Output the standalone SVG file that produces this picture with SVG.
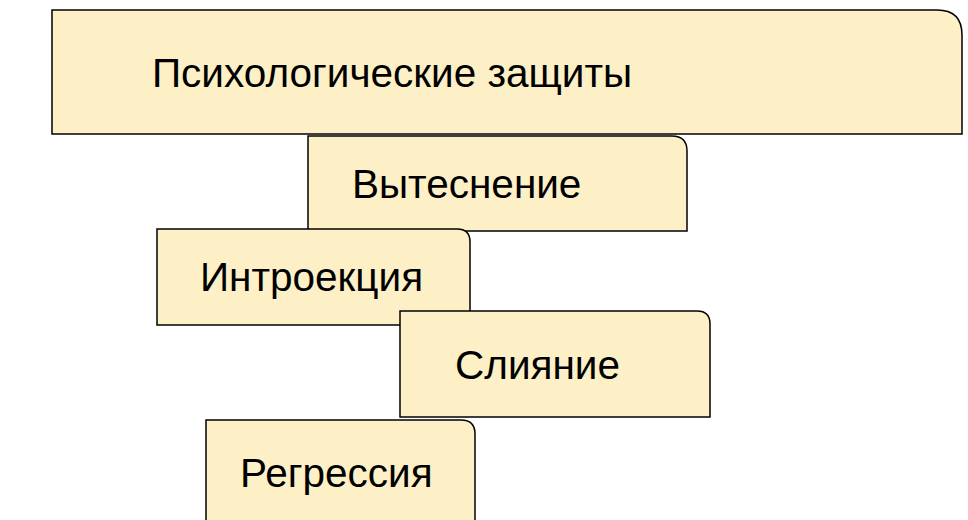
<svg xmlns="http://www.w3.org/2000/svg" width="968" height="520" viewBox="0 0 968 520">
<style>
.b{fill:#fdf0c6;stroke:#000;stroke-width:1.5}
.t{font-family:"Liberation Sans",Arial,sans-serif;font-size:40.5px;fill:#000}
</style>
<rect width="968" height="520" fill="#fff"/>
<g id="n0"><path class="b" d="M52 10H937Q962 10 962 35V134H52Z"/><text class="t" x="152" y="87">Психологические защиты</text></g>
<g id="n1"><path class="b" d="M308 136H672Q687 136 687 151V231H308Z"/><text class="t" x="352" y="198">Вытеснение</text></g>
<g id="n2"><path class="b" d="M157 229H457Q470 229 470 242V325H157Z"/><text class="t" x="200" y="291">Интроекция</text></g>
<g id="n3"><path class="b" d="M400 311H697Q710 311 710 324V417H400Z"/><text class="t" x="455" y="379">Слияние</text></g>
<g id="n4"><path class="b" d="M206 420H461Q475 420 475 434V530H206Z"/><text class="t" x="240" y="487">Регрессия</text></g>
<g id="connectors"/>
</svg>
